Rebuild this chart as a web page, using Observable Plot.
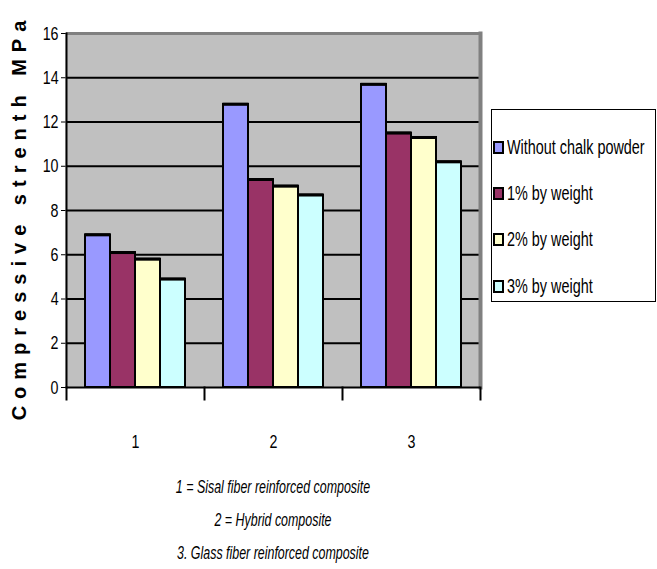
<!DOCTYPE html>
<html>
<head>
<meta charset="utf-8">
<script src="https://cdn.jsdelivr.net/npm/d3@7"></script>
<script src="https://cdn.jsdelivr.net/npm/@observablehq/plot@0.6"></script>
<style>
  html, body { margin: 0; padding: 0; background: #fff; }
  #wrap { position: relative; width: 657px; height: 569px; overflow: hidden; font-family: "Liberation Sans", Arial, sans-serif; }
  #chart { position: absolute; left: 0; top: 0; width: 657px; }
  #ytitle {
    position: absolute; left: 19px; top: 217px;
    transform: translate(-50%, -50%) rotate(-90deg);
    white-space: nowrap;
    font-weight: bold; font-size: 20px; letter-spacing: 7px; color: #000;
  }
  #legend {
    position: absolute; left: 491px; top: 109px; width: 163px; height: 191px;
    border: 1px solid #000; background: #fff;
  }
  .item { position: absolute; left: 1px; height: 20px; display: flex; align-items: center; white-space: nowrap; }
  .sw { width: 7px; height: 9px; border: 2px solid #000; margin-right: 3px; flex: none; }
  .item span { font-size: 20px; color: #000; display: inline-block; transform: scaleX(0.72); transform-origin: left center; }
  .cap { position: absolute; left: 273px; white-space: nowrap; font-style: italic; font-size: 18px; color: #000;
         transform: translate(-50%, -50%) scaleX(0.69); }
</style>
</head>
<body>
<div id="wrap">
  <div id="chart"></div>
  <div id="ytitle"></div>
  <div id="legend"></div>
</div>
<script>
// Composite groups on the x axis and chalk-powder content per bar
const groups = ["1", "2", "3"];
const series = ["Without chalk powder", "1% by weight", "2% by weight", "3% by weight"];
const withoutChalk = [6.9, 12.8, 13.7];
const onePercent = [6.1, 9.4, 11.5];
const twoPercent = [5.8, 9.1, 11.3];
const threePercent = [4.9, 8.7, 10.2];
const seriesColors = ["#9999ff", "#993366", "#ffffcc", "#ccffff"];
const yTicks = [0, 2, 4, 6, 8, 10, 12, 14, 16];
const yTitle = "Compressive strenth MPa";
const captionLines = [
  "1 = Sisal fiber reinforced composite",
  "2 = Hybrid composite",
  "3. Glass fiber reinforced composite"
];

const valuesBySeries = [withoutChalk, onePercent, twoPercent, threePercent];
const rows = [];
groups.forEach((g, gi) => series.forEach((s, si) => rows.push({g, s, v: valuesBySeries[si][gi]})));

const chart = Plot.plot({
  width: 657,
  height: 460,
  marginLeft: 66,
  marginRight: 177,
  marginTop: 33,
  marginBottom: 73,
  style: {fontFamily: '"Liberation Sans", Arial, sans-serif', fontSize: "19px", color: "#000", background: "transparent"},
  fx: {domain: groups, padding: 0, axis: "bottom", tickSize: 0, tickPadding: 47, label: null},
  x: {domain: series, paddingInner: 0, paddingOuter: 0.76, axis: null},
  y: {domain: [0, 16], ticks: yTicks, tickSize: 5, tickPadding: 3, label: null},
  color: {domain: series, range: seriesColors},
  marks: [
    // grey plot area, slightly overlapping so facet seams do not show
    Plot.frame({fill: "#c0c0c0", stroke: "none", insetLeft: -1, insetRight: -1}),
    Plot.ruleY(yTicks.filter(t => t > 0 && t < 16), {stroke: "#000", strokeWidth: 2}),
    Plot.ruleY([16], {stroke: "#808080", strokeWidth: 3}),
    Plot.frame({anchor: "right", stroke: "#808080", strokeWidth: 4, fx: ["3"]}),
    Plot.frame({anchor: "left", stroke: "#000", strokeWidth: 2, fx: ["1"]}),
    // category boundary ticks below the axis
    Plot.frame({anchor: "left", stroke: "#000", strokeWidth: 2, insetTop: 354, insetBottom: -12}),
    Plot.frame({anchor: "right", stroke: "#000", strokeWidth: 2, insetTop: 354, insetBottom: -12, fx: ["3"]}),
    Plot.barY(rows, {fx: "g", x: "s", y: "v", fill: "s", stroke: "#000", strokeWidth: 2}),
    Plot.tickY(rows, {fx: "g", x: "s", y: "v", stroke: "#000", strokeWidth: 3}),
    Plot.ruleY([0], {stroke: "#000", strokeWidth: 2})
  ]
});
document.getElementById("chart").appendChild(chart);

// Larger, horizontally condensed axis labels
const svgNS = "http://www.w3.org/2000/svg";
chart.querySelectorAll("text").forEach(t => {
  t.setAttribute("font-size", "19");
  t.style.fontSize = "19px";
  t.style.fontFamily = '"Liberation Sans", Arial, sans-serif';
  t.style.fill = "#000";
});
chart.querySelectorAll("text").forEach(t => {
  const b = t.getBBox();
  const host = t.parentNode;
  const g = document.createElementNS(svgNS, "g");
  host.insertBefore(g, t);
  g.appendChild(t);
  const pt = chart.createSVGPoint();
  pt.x = b.x + b.width / 2; pt.y = b.y + b.height / 2;
  const local = pt.matrixTransform(t.getCTM());
  const c = local.matrixTransform(g.getCTM().inverse());
  const isY = local.x < 66;
  const ox = isY ? c.x + b.width / 2 : c.x;
  g.setAttribute("transform", `translate(${ox},${c.y}) scale(0.75,1) translate(${-ox},${-c.y})`);
});

document.getElementById("ytitle").textContent = yTitle;

// Legend box on the right
const legend = document.getElementById("legend");
const rowTops = [27, 73, 119, 166];
series.forEach((s, i) => {
  const item = document.createElement("div");
  item.className = "item";
  item.style.top = rowTops[i] + "px";
  const sw = document.createElement("div");
  sw.className = "sw";
  sw.style.background = seriesColors[i];
  const label = document.createElement("span");
  label.textContent = s;
  item.appendChild(sw);
  item.appendChild(label);
  legend.appendChild(item);
});

// Caption lines below the axis
const wrap = document.getElementById("wrap");
const capY = [487, 520, 553];
captionLines.forEach((t, i) => {
  const d = document.createElement("div");
  d.className = "cap";
  d.style.top = capY[i] + "px";
  d.textContent = t;
  wrap.appendChild(d);
});
</script>
</body>
</html>
